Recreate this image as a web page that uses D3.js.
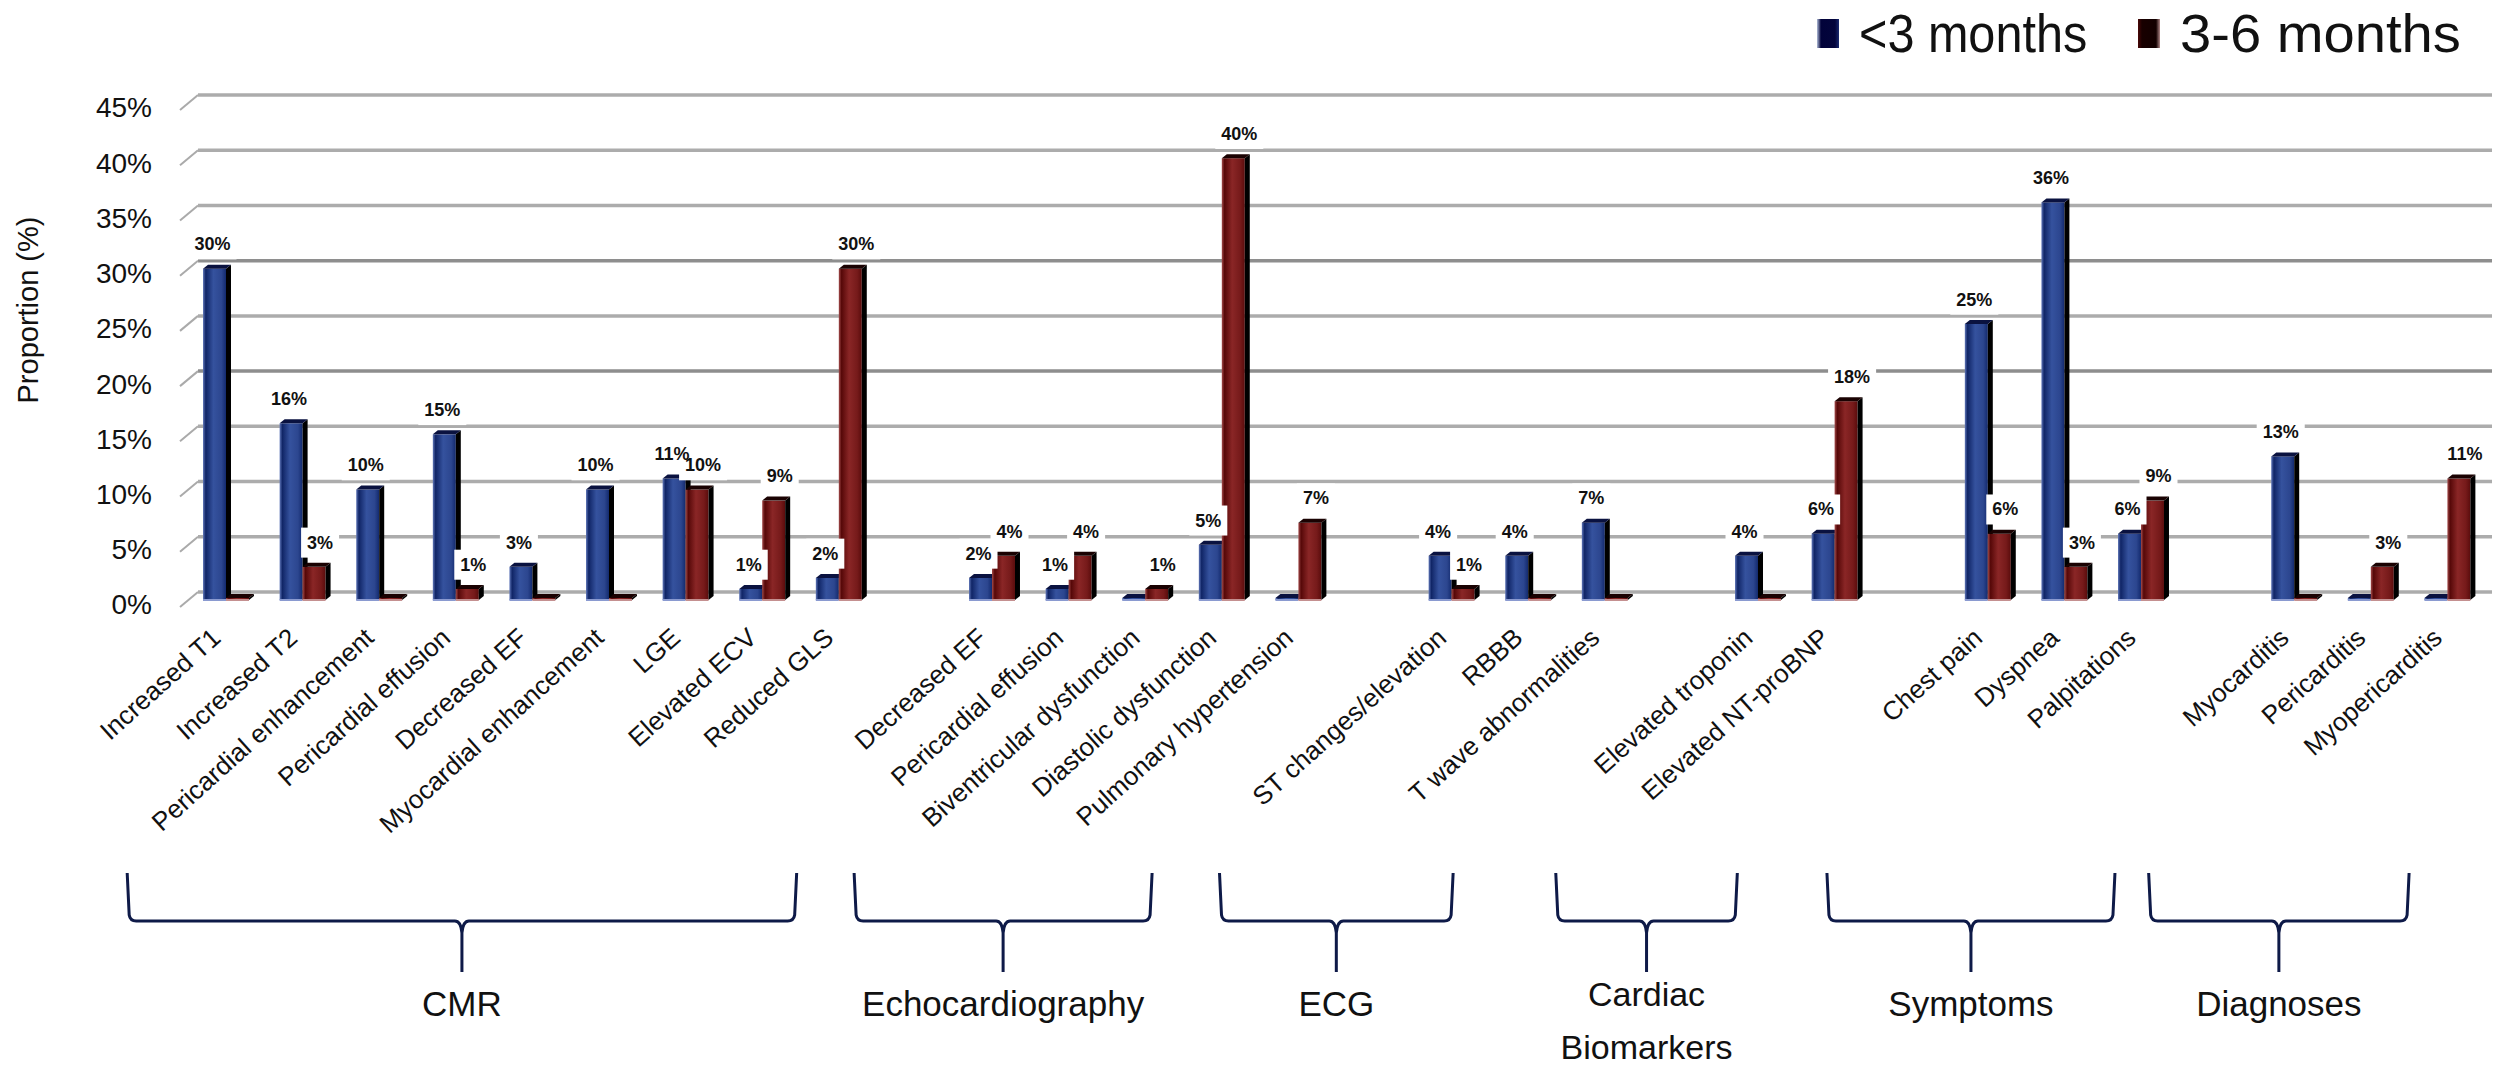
<html>
<head>
<script src="https://d3js.org/d3.v7.min.js"></script>
<style>
  body { margin: 0; background: #fff; }
  text { font-family: "Liberation Sans", Arial, sans-serif; }
</style>
</head>
<body>
<svg id="chart" width="2506" height="1065"></svg>
<script>
// data
const categories = ["Increased T1", "Increased T2", "Pericardial enhancement", "Pericardial effusion",
  "Decreased EF", "Myocardial enhancement", "LGE", "Elevated ECV", "Reduced GLS",
  "Decreased EF ", "Pericardial effusion ", "Biventricular dysfunction", "Diastolic dysfunction",
  "Pulmonary hypertension",
  "ST changes/elevation", "RBBB", "T wave abnormalities",
  "Elevated troponin", "Elevated NT-proBNP",
  "Chest pain", "Dyspnea", "Palpitations",
  "Myocarditis", "Pericarditis", "Myopericarditis"];
const groups = ["CMR", "Echocardiography", "ECG", "Cardiac Biomarkers", "Symptoms", "Diagnoses"];
const groupSizes = [9, 5, 3, 2, 3, 3];
const under3 = [30, 16, 10, 15, 3, 10, 11, 1, 2, 2, 1, 0, 5, 0, 4, 4, 7, 4, 6, 25, 36, 6, 13, 0, 0];
const from3to6 = [0, 3, 0, 1, 0, 0, 10, 9, 30, 4, 4, 1, 40, 7, 1, 0, 0, 0, 18, 6, 3, 9, 0, 3, 11];
const seriesNames = ["<3 months", "3-6 months"];
const yTicks = [0, 5, 10, 15, 20, 25, 30, 35, 40, 45];

// brace spans in slot units (hand drawn annotations under the labels)
const braceSpans = [[-0.82, 7.92], [8.67, 12.56], [13.44, 16.49], [17.83, 20.2], [21.37, 25.13], [25.57, 28.97]];

const svg = d3.select('svg#chart');

// slots: categories with a blank slot between groups
let slots = [];
let idx = 0;
groupSizes.forEach((n, g) => {
  for (let i = 0; i < n; i++) { slots.push(categories[idx]); idx++; }
  if (g < groupSizes.length - 1) slots.push('gap' + g);
});

const x = d3.scaleBand().domain(slots).range([190, 2488]);
const bw = x.bandwidth();
const xs = d3.scaleBand().domain(seriesNames).range([bw * 0.17, bw * 0.77]);
const slotPos = d3.scaleLinear().domain([0, slots.length]).range([190, 2488]);
const y = d3.scaleLinear().domain([0, 45]).range([600, 103]);

const defs = svg.append('defs');
function grad(id, stops) {
  const g = defs.append('linearGradient').attr('id', id).attr('x1', 0).attr('x2', 1).attr('y1', 0).attr('y2', 0);
  stops.forEach(s => g.append('stop').attr('offset', s[0]).attr('stop-color', s[1]));
}
grad('gBlue', [[0, '#5f76b8'], [0.12, '#102566'], [0.45, '#35529e'], [0.8, '#2c468f'], [1, '#132a6e']]);
grad('gRed', [[0, '#a24a4a'], [0.12, '#560808'], [0.45, '#8a2626'], [0.8, '#761a1a'], [1, '#5a0c0c']]);
grad('gLegBlue', [[0, '#b0bcd8'], [0.18, '#02033a'], [0.82, '#03053c'], [1, '#1a2a70']]);
grad('gLegRed', [[0, '#4a0808'], [0.18, '#180000'], [0.82, '#120000'], [1, '#b08888']]);

// back wall gridlines with small depth stubs
const grid = svg.append('g');
grid.selectAll('line.grid').data(yTicks).join('line')
  .attr('class', 'grid')
  .attr('x1', 198).attr('x2', 2492)
  .attr('y1', d => y(d) - 8).attr('y2', d => y(d) - 8)
  .attr('stroke', d => (d === 20 || d === 30) ? '#8e8e8e' : '#acacac')
  .attr('stroke-width', 3.5);
grid.selectAll('line.stub').data(yTicks).join('line')
  .attr('class', 'stub')
  .attr('x1', 180).attr('x2', 198)
  .attr('y1', d => y(d) + 7).attr('y2', d => y(d) - 8)
  .attr('stroke', '#aaa').attr('stroke-width', 2);
grid.selectAll('text').data(yTicks).join('text')
  .attr('x', 152).attr('y', d => y(d) + 7)
  .attr('text-anchor', 'end').attr('dominant-baseline', 'middle')
  .attr('font-size', 28).attr('fill', '#111')
  .text(d => d + '%');

svg.append('text')
  .attr('transform', 'translate(30,310) rotate(-90)')
  .attr('text-anchor', 'middle').attr('dominant-baseline', 'middle')
  .attr('font-size', 29).attr('fill', '#111')
  .text('Proportion (%)');

// bars as long rows
const rows = [];
categories.forEach((c, i) => {
  rows.push({ cat: c, s: seriesNames[0], v: under3[i] });
  rows.push({ cat: c, s: seriesNames[1], v: from3to6[i] });
});

const depth = 5;
const barW = xs.bandwidth();
const bars = svg.append('g');
const barG = bars.selectAll('g.bar').data(rows).join('g').attr('class', 'bar');
barG.each(function(d) {
  const g = d3.select(this);
  const x0 = x(d.cat) + xs(d.s);
  const top = Math.min(y(d.v), y(0) - 2);
  const bot = y(0);
  const blue = d.s === seriesNames[0];
  g.append('rect').attr('x', x0).attr('y', top).attr('width', barW).attr('height', bot - top)
    .attr('fill', blue ? 'url(#gBlue)' : 'url(#gRed)');
  g.append('path')
    .attr('d', `M${x0 + barW},${top} L${x0 + barW + depth},${top - 4} L${x0 + barW + depth},${bot - 4} L${x0 + barW},${bot} Z`)
    .attr('fill', '#000');
  g.append('path')
    .attr('d', `M${x0},${top} L${x0 + depth},${top - 4} L${x0 + barW + depth},${top - 4} L${x0 + barW},${top} Z`)
    .attr('fill', blue ? '#0a1240' : '#1a0202');
  g.append('line').attr('x1', x0).attr('x2', x0 + barW).attr('y1', bot).attr('y2', bot)
    .attr('stroke', blue ? '#8a9ad0' : '#c49090').attr('stroke-width', 2);
});

// value labels with white boxes (boxes first, texts on top)
const labRows = rows.filter(d => d.v > 0);
const boxes = svg.append('g');
const labs = svg.append('g');
labs.selectAll('text').data(labRows).join('text')
  .attr('x', d => x(d.cat) + xs(d.s) + barW / 2 + (d.s === seriesNames[0] ? -2 : 6))
  .attr('y', d => y(d.v) - 23)
  .attr('text-anchor', 'middle').attr('dominant-baseline', 'middle')
  .attr('font-size', 18).attr('font-weight', 'bold').attr('fill', '#111')
  .text(d => d.v + '%')
  .each(function() {
    const bb = this.getBBox();
    boxes.append('rect')
      .attr('x', bb.x - 6).attr('y', bb.y - 5).attr('width', bb.width + 12).attr('height', bb.height + 10)
      .attr('fill', '#fff');
  });

// category labels
svg.append('g').selectAll('text').data(categories).join('text')
  .attr('transform', d => `translate(${x(d) + bw * 0.5 - 6},${640}) rotate(-42)`)
  .attr('text-anchor', 'end')
  .attr('font-size', 26).attr('fill', '#111')
  .text(d => d.trim());

// braces and group names
const braceTop = 873, braceMid = 921, braceBot = 972;
const br = svg.append('g');
groups.forEach((name, i) => {
  const l = slotPos(braceSpans[i][0]);
  const r = slotPos(braceSpans[i][1]);
  const c = (l + r) / 2;
  br.append('path')
    .attr('d', `M${l},${braceTop} L${l + 2},${braceMid - 6} Q${l + 3},${braceMid} ${l + 9},${braceMid}
      L${c - 7},${braceMid} Q${c - 1},${braceMid} ${c},${braceMid + 12} L${c},${braceBot}
      M${c},${braceMid + 12} Q${c + 1},${braceMid} ${c + 7},${braceMid}
      L${r - 9},${braceMid} Q${r - 3},${braceMid} ${r - 2},${braceMid - 6} L${r},${braceTop}`)
    .attr('fill', 'none').attr('stroke', '#0e1a48').attr('stroke-width', 3);
  const words = name.split(' ');
  if (words.length > 1) {
    words.forEach((w, k) => br.append('text')
      .attr('x', c).attr('y', 997 + k * 53)
      .attr('text-anchor', 'middle').attr('dominant-baseline', 'middle')
      .attr('font-size', 34).attr('fill', '#111').text(w));
  } else {
    br.append('text')
      .attr('x', c).attr('y', 1007)
      .attr('text-anchor', 'middle').attr('dominant-baseline', 'middle')
      .attr('font-size', 35).attr('fill', '#111').text(name);
  }
});

// legend
const leg = svg.append('g');
const legX = [1817, 2138];
const legScale = [0.9, 1.04];
seriesNames.forEach((s, i) => {
  leg.append('rect').attr('x', legX[i]).attr('y', 19).attr('width', 22).attr('height', 29)
    .attr('fill', i === 0 ? 'url(#gLegBlue)' : 'url(#gLegRed)');
  leg.append('text').attr('transform', `translate(${legX[i] + 42},52) scale(${legScale[i]},1)`)
    .attr('font-size', 54).attr('fill', '#111').text(s);
});
</script>
</body>
</html>
